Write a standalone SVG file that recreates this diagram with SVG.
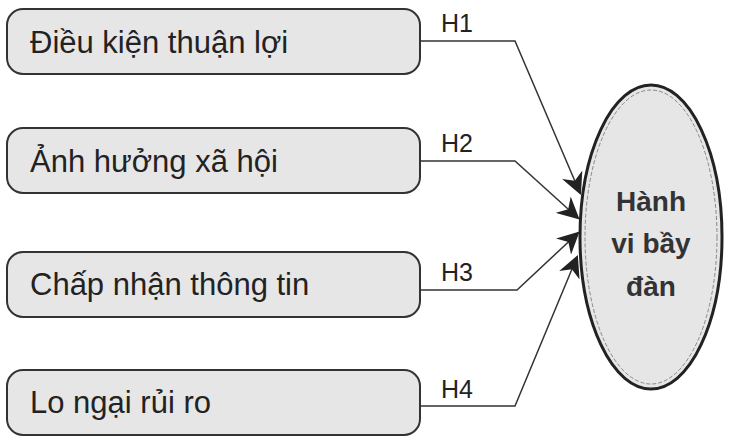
<svg xmlns="http://www.w3.org/2000/svg" width="731" height="443" viewBox="0 0 731 443">
<style>
.box{fill:#e6e6e7;stroke:#333;stroke-width:2}
.t{font-family:"Liberation Sans",Arial,sans-serif;font-size:31px;fill:#222}
.h{font-family:"Liberation Sans",Arial,sans-serif;font-size:25px;fill:#222}
.c{fill:none;stroke:#333;stroke-width:1.5;marker-end:url(#a2)}
</style>
<defs>
<marker id="a2" viewBox="0 0 10 10" refX="9" refY="5" markerWidth="22" markerHeight="22" markerUnits="userSpaceOnUse" orient="auto"><path d="M0,0 L10,5 L0,10 L3,5 Z" fill="#222"/></marker></defs>
<g id="n1"><rect class="box" x="7" y="9" width="413" height="65" rx="16"/><text class="t" x="30" y="53">Điều kiện thuận lợi</text></g>
<g id="n2"><rect class="box" x="7" y="128" width="413" height="65" rx="16"/><text class="t" x="30" y="172">Ảnh hưởng xã hội</text></g>
<g id="n3"><rect class="box" x="7" y="252" width="413" height="65" rx="16"/><text class="t" x="30" y="295">Chấp nhận thông tin</text></g>
<g id="n4"><rect class="box" x="7" y="370" width="413" height="65" rx="16"/><text class="t" x="30" y="413">Lo ngại rủi ro</text></g>
<g id="n5"><ellipse cx="651" cy="237" rx="71" ry="152" fill="#e6e6e7" stroke="#222" stroke-width="3"/><ellipse cx="651" cy="237" rx="66" ry="147" fill="none" stroke="#888" stroke-width="1" stroke-dasharray="4 2"/>
<g font-family="Liberation Sans,Arial,sans-serif" font-weight="bold" font-size="28" fill="#333" text-anchor="middle"><text x="651" y="211">Hành</text><text x="651" y="253">vi bầy</text><text x="651" y="296">đàn</text></g></g>
<g id="connectors">
<path class="c" d="M420,41 H515 L580,193"/>
<path class="c" d="M420,161 H515 L578,218"/>
<path class="c" d="M420,290 H517 L578,233"/>
<path class="c" d="M420,406 H515 L577,257"/>
<text class="h" x="441" y="32">H1</text><text class="h" x="441" y="152">H2</text><text class="h" x="441" y="281">H3</text><text class="h" x="441" y="398">H4</text>
</g>
</svg>
